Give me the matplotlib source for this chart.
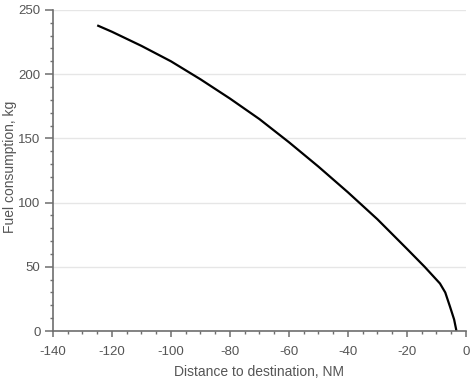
import matplotlib
matplotlib.use('Agg')
import matplotlib.pyplot as plt
from matplotlib.ticker import MultipleLocator

# distance to destination (NM) vs fuel consumption (kg)
distance = [-125, -120, -110, -100, -90, -80, -70, -60, -50, -40, -30,
            -20, -14, -8.8, -7, -5.4, -4, -3.2]
fuel = [238, 233, 222, 210, 196, 181, 165, 147, 128, 108, 87,
        64, 50, 37, 30, 19, 9, 0]

plt.rcParams['font.family'] = ['Liberation Sans', 'DejaVu Sans']
plt.rcParams['axes.unicode_minus'] = False
gray = '#555555'
axis_gray = '#6e6e6e'

fig = plt.figure(figsize=(4.73, 3.82), dpi=100)
ax = fig.add_axes([0.112, 0.1335, 0.873, 0.8405])

ax.plot(distance, fuel, color='black', lw=1.6, solid_capstyle='butt',
        solid_joinstyle='round')

ax.set_xlim(-140, 0)
ax.set_ylim(0, 250)
ax.xaxis.set_major_locator(MultipleLocator(20))
ax.xaxis.set_minor_locator(MultipleLocator(5))
ax.yaxis.set_major_locator(MultipleLocator(50))
ax.yaxis.set_minor_locator(MultipleLocator(10))

ax.grid(axis='y', which='major', color='#e6e6e6', lw=1)
ax.set_axisbelow(True)
for s in ['top', 'right']:
    ax.spines[s].set_visible(False)
for s in ['left', 'bottom']:
    ax.spines[s].set_color(axis_gray)
    ax.spines[s].set_linewidth(1.2)

ax.tick_params(which='major', width=1.1, color=axis_gray,
               labelcolor=gray, labelsize=9.5)
ax.tick_params(axis='x', which='major', length=4.5, pad=6.5)
ax.tick_params(axis='y', which='major', length=6, pad=3)
ax.tick_params(which='minor', length=2.5, width=1.0, color=axis_gray)

ax.set_xlabel('Distance to destination, NM', fontsize=10, color=gray, labelpad=5)
ax.set_ylabel('Fuel consumption, kg', fontsize=10, color=gray)
ax.yaxis.set_label_coords(-0.087, 0.511)

fig.savefig('out.png', dpi=100)
